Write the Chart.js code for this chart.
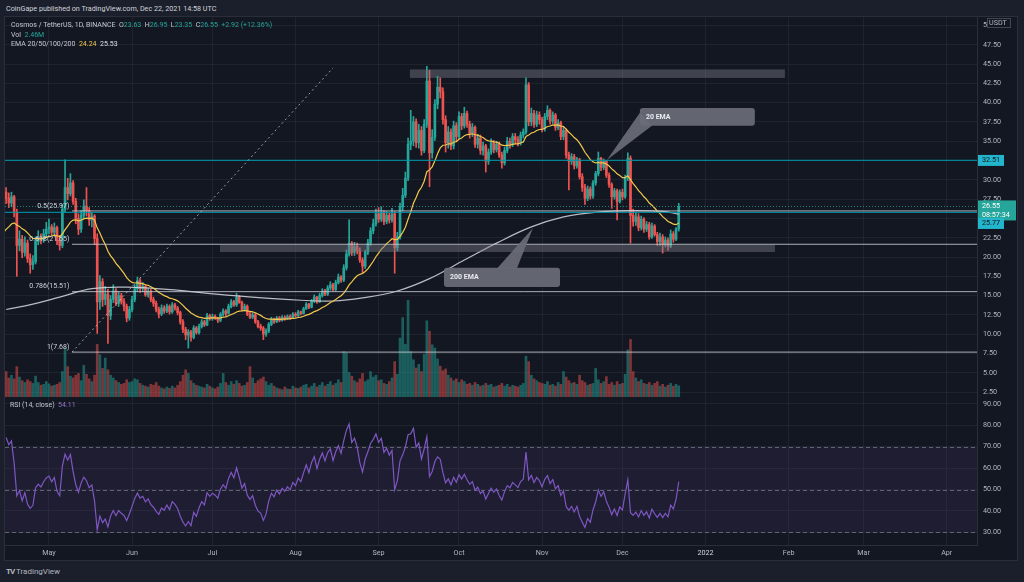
<!DOCTYPE html>
<html>
<head>
<meta charset="utf-8">
<script src="https://cdn.jsdelivr.net/npm/chart.js@4.4.1/dist/chart.umd.min.js"></script>
<style>
  body { margin: 0; background: #1b1f2b; width: 1024px; height: 582px; overflow: hidden; font-family: Roboto, sans-serif; }
  #frame { position: absolute; left: 4px; top: 16px; width: 1014px; height: 545px; border: 1px solid #2a2e39; background: #131722; box-sizing: border-box; }
  canvas { position: absolute; left: 0; }
  #main { top: 16px; }
  #rsi { top: 397px; }
  .t { position: absolute; color: #c4c7cf; font-size: 7px; white-space: pre; line-height: 9px; }
  .up { color: #26a69a; }
</style>
</head>
<body>
<div id="frame"></div>
<canvas id="main" width="1018" height="381"></canvas>
<canvas id="rsi" width="1018" height="164"></canvas>

<div class="t" style="left:6px;top:4px;font-size:7.2px;color:#d1d4dc">CoinGape published on TradingView.com, Dec 22, 2021 14:58 UTC</div>
<div class="t" style="left:11px;top:21px">Cosmos / TetherUS, 1D, BINANCE  O<span class="up">23.63</span>  H<span class="up">26.95</span>  L<span class="up">23.35</span>  C<span class="up">26.55</span>  <span class="up">+2.92 (+12.36%)</span></div>
<div class="t" style="left:11px;top:31px">Vol  <span class="up">2.46M</span></div>
<div class="t" style="left:11px;top:40px">EMA 20/50/100/200  <span style="color:#f2c94c">24.24</span>  <span style="color:#e0e3eb">25.53</span></div>
<div class="t" style="left:10px;top:401px">RSI (14, close)  <span style="color:#9575cd">54.11</span></div>
<div class="t" style="left:6px;top:567px;font-size:8px;color:#b2b5be"><b style="letter-spacing:-1px">TV</b> TradingView</div>

<script>
// days counted from 15 Apr 2021 (index 0) to 22 Dec 2021 (index 251)
const preCloses = [21.0, 20.4, 21.2, 22.0, 21.5, 22.4, 21.9, 23.0, 22.5, 23.8, 24.6, 24.0, 26.2, 28.4];

const closes = [
  27.6, 27.0, 27.8, 25.8, 21.5, 22.3, 20.6, 21.8, 19.8, 19.0,
  19.4, 22.0, 22.6, 22.2, 23.0, 23.6, 23.9, 23.2, 23.8, 22.1,
  21.5, 26.2, 29.0, 28.2, 29.6, 27.2, 25.0, 23.6, 25.4, 26.6,
  26.0, 24.8, 25.3, 22.4, 14.2, 16.8, 14.5, 15.2, 12.4, 14.5,
  15.6, 14.0, 15.0, 14.2, 13.6, 12.1, 13.2, 14.5, 15.9, 16.9,
  15.9, 16.2, 15.1, 15.6, 14.5, 14.0, 13.2, 12.6, 13.4, 13.0,
  13.6, 12.9, 13.8, 13.4, 12.8, 11.6, 10.6, 9.9, 10.3, 9.6,
  10.8, 10.2, 11.0, 11.6, 11.2, 12.4, 12.0, 12.3, 12.1, 11.8,
  12.6, 13.0, 12.7, 13.6, 14.2, 13.8, 14.8, 14.1, 13.2, 13.6,
  12.6, 12.2, 12.5, 11.6, 11.0, 10.8, 10.0, 10.4, 11.3, 11.9,
  11.6, 12.1, 11.8, 12.2, 12.0, 12.3, 12.1, 12.6, 12.4, 12.9,
  12.7, 13.3, 13.9, 13.5, 14.3, 14.8, 14.2, 15.0, 15.6, 15.2,
  16.0, 16.4, 15.8, 16.7, 17.4, 17.0, 18.6, 20.4, 21.8, 20.6,
  21.4, 20.8, 19.6, 18.8, 20.6, 21.8, 23.4, 24.3, 25.6, 24.9,
  25.8, 24.6, 25.4, 24.8, 25.6, 21.2, 22.6, 26.5, 28.0, 30.2,
  34.6, 35.0, 37.5, 34.8, 36.4, 33.8, 37.2, 42.8, 33.5, 35.5,
  39.8, 42.0, 41.4, 37.8, 34.8, 36.2, 34.4, 37.0, 35.6, 38.2,
  37.0, 38.6, 37.2, 36.0, 36.8, 34.6, 35.4, 33.8, 34.4, 32.4,
  33.6, 34.8, 33.9, 34.6, 33.2, 32.2, 33.8, 35.0, 34.6, 35.6,
  35.2, 34.8, 35.8, 36.2, 42.3, 37.5, 38.6, 37.2, 38.4, 37.8,
  36.6, 38.2, 39.0, 37.6, 38.4, 36.8, 37.4, 35.6, 36.4, 33.2,
  32.4, 33.0, 31.8, 32.6, 30.4, 29.0, 27.6, 28.8, 27.9, 29.6,
  30.8, 32.8, 31.6, 32.4, 30.6, 29.4, 27.8, 28.6, 27.2, 28.4,
  27.8, 30.2, 32.8, 25.4, 24.6, 25.2, 23.8, 24.9, 23.6, 24.2,
  22.6, 24.0, 22.9, 22.0, 22.6, 21.6, 22.2, 21.4, 23.0, 22.3,
  23.63, 26.55
];

const highs = [
  29.0, 28.3, 28.4, 28.0, 26.2, 23.4, 22.8, 22.6, 22.2, 20.4,
  20.2, 22.6, 23.4, 23.0, 23.6, 24.5, 24.9, 24.2, 24.4, 24.0,
  22.8, 26.8, 32.6, 30.2, 30.8, 29.9, 27.6, 25.6, 26.0, 27.4,
  29.0, 26.4, 25.8, 25.5, 23.0, 17.6, 17.2, 16.2, 15.8, 15.0,
  16.4, 15.9, 15.5, 15.3, 14.6, 13.9, 13.6, 14.9, 16.4, 17.4,
  17.2, 16.7, 16.4, 15.9, 15.8, 14.8, 14.3, 13.5, 13.8, 13.7,
  13.9, 13.8, 14.1, 14.0, 13.6, 13.0, 11.9, 10.9, 10.6, 10.5,
  11.1, 11.0, 11.3, 11.9, 11.8, 12.7, 12.6, 12.6, 12.5, 12.2,
  12.8, 13.3, 13.2, 13.9, 14.5, 14.4, 15.3, 15.0, 14.3, 13.9,
  13.8, 12.9, 12.8, 12.7, 11.8, 11.3, 11.0, 10.7, 11.5, 12.2,
  12.1, 12.3, 12.3, 12.4, 12.4, 12.5, 12.5, 12.8, 12.8, 13.1,
  13.0, 13.5, 14.1, 14.0, 14.5, 15.1, 14.9, 15.3, 15.9, 15.8,
  16.3, 16.8, 16.6, 17.0, 17.8, 17.6, 19.0, 20.9, 24.8, 22.0,
  21.9, 21.8, 21.2, 19.9, 20.9, 22.3, 23.8, 24.9, 26.2, 26.4,
  26.5, 26.0, 25.9, 25.7, 26.3, 25.9, 23.2, 27.0, 28.9, 31.0,
  35.4, 39.0, 38.2, 37.9, 37.2, 36.9, 37.8, 44.7, 44.2, 36.5,
  40.4, 43.4, 43.2, 41.9, 38.3, 36.9, 36.6, 37.6, 37.4, 38.8,
  38.6, 39.4, 38.9, 37.6, 37.3, 37.0, 35.9, 35.8, 34.9, 34.6,
  34.0, 35.3, 35.1, 35.0, 34.9, 33.6, 34.2, 35.5, 35.4, 36.0,
  36.0, 35.6, 36.2, 36.6, 43.2, 42.6, 39.3, 39.0, 38.9, 38.8,
  38.1, 38.6, 39.6, 39.2, 38.8, 38.6, 37.8, 37.6, 36.8, 36.6,
  33.6, 33.4, 33.3, 32.9, 32.8, 30.8, 29.4, 29.2, 29.1, 29.9,
  31.1, 33.6, 32.9, 32.7, 32.5, 30.9, 29.6, 28.9, 28.8, 28.7,
  28.8, 30.6, 33.5, 33.1, 26.2, 25.8, 25.6, 25.3, 25.1, 24.6,
  24.5, 24.4, 24.2, 23.2, 23.1, 22.9, 22.6, 22.5, 23.5, 23.3,
  23.8, 26.95
];

const lows = [
  26.9, 26.4, 26.5, 25.2, 17.5, 20.8, 19.9, 20.1, 19.3, 17.9,
  18.4, 19.1, 21.6, 21.7, 21.9, 22.6, 23.0, 22.8, 22.9, 21.6,
  20.9, 21.2, 25.8, 27.4, 27.9, 26.8, 24.3, 22.9, 23.2, 25.0,
  25.3, 24.1, 23.9, 21.6, 10.1, 13.2, 13.6, 13.8, 8.8, 11.9,
  14.1, 13.7, 13.6, 13.9, 13.0, 11.6, 11.8, 12.9, 14.2, 15.5,
  15.4, 15.5, 14.9, 14.8, 14.2, 13.6, 12.9, 12.1, 12.4, 12.7,
  12.8, 12.6, 12.7, 13.1, 12.5, 11.3, 10.2, 9.3, 8.2, 9.1,
  9.4, 10.0, 10.0, 10.8, 11.0, 11.1, 11.8, 11.8, 11.9, 11.5,
  11.6, 12.4, 12.4, 12.6, 13.4, 13.6, 13.6, 14.0, 13.0, 13.0,
  12.4, 12.0, 12.0, 11.4, 10.8, 10.5, 9.3, 9.7, 10.2, 11.1,
  11.4, 11.5, 11.6, 11.7, 11.8, 11.9, 11.9, 12.0, 12.2, 12.3,
  12.5, 12.6, 13.2, 13.3, 13.4, 14.1, 14.0, 14.1, 14.8, 15.0,
  15.0, 15.7, 15.6, 15.6, 16.5, 16.7, 16.8, 18.3, 20.1, 20.2,
  20.2, 20.4, 19.3, 17.9, 18.5, 20.3, 21.5, 23.0, 24.0, 24.5,
  24.6, 24.2, 24.3, 24.4, 24.5, 17.9, 20.8, 22.3, 26.0, 27.7,
  29.9, 33.9, 34.4, 34.2, 34.1, 33.2, 33.5, 36.8, 29.1, 32.8,
  35.1, 39.2, 40.6, 37.2, 33.6, 34.1, 33.9, 34.0, 35.0, 35.3,
  36.5, 36.7, 36.8, 35.4, 35.6, 34.2, 34.1, 33.3, 33.2, 31.0,
  32.0, 33.3, 33.5, 33.6, 32.9, 31.5, 31.9, 33.5, 34.1, 34.3,
  34.7, 34.4, 34.5, 35.4, 35.9, 37.0, 37.0, 36.8, 36.9, 37.2,
  36.2, 36.3, 37.8, 37.2, 37.3, 36.4, 36.5, 35.2, 35.2, 32.8,
  28.7, 32.0, 31.4, 31.5, 30.1, 28.5, 26.8, 27.3, 27.5, 27.6,
  29.3, 30.5, 31.2, 31.3, 30.3, 29.0, 26.3, 27.5, 24.8, 27.0,
  27.4, 27.6, 29.9, 21.8, 24.0, 24.1, 23.4, 23.5, 23.2, 23.3,
  22.3, 22.4, 22.7, 21.5, 21.5, 20.5, 21.3, 20.9, 21.2, 21.9,
  22.1, 23.35
];

// volume in millions
const volumes = [
  5.6, 4.2, 4.8, 4.0, 6.7, 4.4, 3.6, 3.2, 3.8, 3.4,
  3.0, 4.6, 3.2, 2.6, 2.8, 3.4, 2.9, 2.4, 2.6, 2.8,
  3.2, 5.6, 10.8, 6.7, 4.6, 4.2, 4.8, 5.2, 3.6, 7.0,
  5.0, 4.0, 3.4, 4.8, 11.6, 9.3, 6.3, 8.6, 6.0, 4.8,
  4.2, 3.6, 3.2, 2.8, 3.0, 3.8, 3.2, 3.4, 4.0, 3.8,
  3.0, 2.6, 2.4, 2.2, 2.8, 2.6, 3.2, 2.4, 2.0, 1.8,
  2.2, 1.9, 2.4, 2.0, 2.6, 3.4, 4.8, 6.0, 5.2, 3.6,
  3.0, 2.6, 2.4, 2.2, 2.0, 2.8, 2.4, 2.0, 1.8, 2.2,
  3.0, 5.2, 3.2, 2.6, 3.4, 2.8, 3.6, 3.0, 2.4, 2.6,
  3.2, 6.7, 4.2, 3.0, 3.6, 4.0, 4.4, 3.4, 2.6, 3.0,
  2.4, 2.0, 1.8, 1.6, 2.2, 1.8, 1.7, 2.4, 2.0, 1.9,
  2.2, 2.6, 2.8, 2.0, 2.4, 3.0, 2.2, 2.6, 3.2, 2.4,
  2.8, 3.4, 2.6, 3.0, 3.8, 3.2, 10.0, 9.7, 5.4, 4.6,
  3.6, 3.2, 4.0, 5.2, 3.4, 3.8, 5.6, 4.4, 4.8, 3.6,
  3.8, 3.0, 2.8, 3.4, 4.2, 7.8, 5.0, 13.0, 17.5, 11.6,
  21.3, 10.0, 8.2, 6.4, 7.2, 5.6, 9.4, 16.8, 14.5, 11.5,
  10.8, 8.4, 6.8, 5.8, 6.2, 4.8, 4.2, 3.6, 4.0, 3.2,
  3.8, 3.4, 2.8, 3.0, 2.6, 3.2, 2.8, 2.4, 2.6, 3.0,
  2.6, 2.8, 2.2, 2.4, 2.6, 3.0, 2.4, 2.8, 2.2, 2.6,
  2.4, 2.2, 2.6, 3.0, 9.0, 7.8, 4.8, 4.0, 3.6, 3.2,
  3.0, 2.8, 3.4, 2.6, 2.8, 2.4, 3.2, 2.8, 5.6, 4.4,
  3.6, 3.0, 3.2, 2.8, 4.8, 3.6, 3.2, 2.6, 2.8, 3.0,
  6.3, 3.8, 3.0, 3.4, 4.5, 2.8, 3.2, 2.6, 3.4, 2.8,
  3.0, 5.0, 10.4, 12.7, 5.6, 4.2, 3.4, 3.8, 3.0, 2.8,
  3.2, 2.6, 3.0, 3.4, 2.4, 2.8, 2.2, 2.6, 3.0, 2.4,
  2.8, 2.46
];

// 200 EMA at a few days
const ema200Days = [0, 10, 20, 32, 45, 60, 85, 110, 122, 133, 146, 158, 171, 183, 196, 208, 220, 233, 245, 251];
const ema200Vals = [13.2, 13.9, 14.8, 15.9, 16.1, 15.8, 15.0, 14.4, 14.3, 14.7, 15.6, 17.2, 19.6, 21.8, 23.9, 25.2, 25.8, 26.0, 25.9, 25.55];

const monthDays = [16, 47, 77, 108, 139, 169, 200, 230, 261, 292, 320, 351];
const monthLabels = ["May", "Jun", "Jul", "Aug", "Sep", "Oct", "Nov", "Dec", "2022", "Feb", "Mar", "Apr"];
const priceTicks = [2.5, 5, 7.5, 10, 12.5, 15, 17.5, 20, 22.5, 25, 27.5, 30, 32.5, 35, 37.5, 40, 42.5, 45, 47.5, 50];
const rsiTicks = [30, 40, 50, 60, 70, 80, 90];

const fibNames = ["0.5", "0.618", "0.786", "1"];
const fibPrices = [25.97, 21.65, 15.51, 7.68];
const levelPrices = [32.51, 25.77];
const lastPrice = 26.55;

const UP = "#26a69a", DOWN = "#ef5350";
const GRID = "rgba(42,46,57,0.55)";
const TXT = "#b2b5be";
const FONT = { family: "Roboto", size: 7.2 };
const X_MIN = -0.41, X_MAX = 362.3;

const opens = closes.map((c, i) => i === 0 ? preCloses[preCloses.length - 1] : closes[i - 1]);
const candleColor = closes.map((c, i) => c >= opens[i] ? UP : DOWN);
const volColor = closes.map((c, i) => c >= opens[i] ? "rgba(38,166,154,0.5)" : "rgba(239,83,80,0.5)");

// indicators from the closes
const allCloses = preCloses.concat(closes);
function ema(vals, n) {
  const k = 2 / (n + 1);
  let e = vals[0];
  return vals.map((v, i) => (i === 0 ? e : (e = v * k + e * (1 - k))));
}
function rsi(vals, n) {
  const out = [];
  let ag = 0, al = 0;
  for (let i = 1; i < vals.length; i++) {
    const ch = vals[i] - vals[i - 1];
    const g = Math.max(ch, 0), l = Math.max(-ch, 0);
    if (i <= n) {
      ag += g; al += l;
      if (i < n) continue;
      ag /= n; al /= n;
    } else {
      ag = (ag * (n - 1) + g) / n;
      al = (al * (n - 1) + l) / n;
    }
    out.push({ x: i - preCloses.length, y: al === 0 ? 100 : 100 - 100 / (1 + ag / al) });
  }
  return out;
}
const ema20 = ema(allCloses, 20).map((v, i) => ({ x: i - preCloses.length, y: v }));
const rsiPts = rsi(allCloses, 14);

function monthTicks(s) { s.ticks = monthDays.map(v => ({ value: v })); }
// keep the plot area the full height of the canvas
function fixedY(s) { s.width = 41; s.paddingTop = 0; s.paddingBottom = 0; }
function fixedX(h) { return s => { s.height = h; s.paddingLeft = 0; s.paddingRight = 0; }; }

const overlay = {
  id: "overlay",
  afterDatasetsDraw(chart) {
    const { ctx, chartArea: a, scales: { x, y } } = chart;
    const px = v => x.getPixelForValue(v), py = v => y.getPixelForValue(v);
    ctx.save();
    ctx.beginPath();
    ctx.rect(a.left, a.top, a.right - a.left, a.bottom - a.top);
    ctx.clip();

    // support / resistance zones
    ctx.fillStyle = "rgba(120,123,134,0.45)";
    ctx.fillRect(px(150.7), py(44.3), px(290.6) - px(150.7), py(43.2) - py(44.3));
    ctx.fillRect(px(79.8), py(21.6), px(286.9) - px(79.8), py(20.65) - py(21.6));

    // teal levels
    ctx.strokeStyle = "rgba(0,151,167,0.85)";
    ctx.lineWidth = 1.2;
    levelPrices.forEach(p => {
      ctx.beginPath(); ctx.moveTo(a.left, py(p)); ctx.lineTo(a.right, py(p)); ctx.stroke();
    });

    // last price line
    ctx.strokeStyle = "rgba(38,166,154,0.8)";
    ctx.lineWidth = 1;
    ctx.setLineDash([1, 2]);
    ctx.beginPath(); ctx.moveTo(a.left, py(lastPrice)); ctx.lineTo(a.right, py(lastPrice)); ctx.stroke();

    // trend line
    ctx.strokeStyle = "rgba(200,202,210,0.75)";
    ctx.setLineDash([2, 3]);
    ctx.beginPath(); ctx.moveTo(px(24.6), py(7.68)); ctx.lineTo(px(122), py(44.5)); ctx.stroke();
    ctx.setLineDash([]);

    // fibonacci levels
    ctx.strokeStyle = "rgba(200,202,210,0.85)";
    ctx.lineWidth = 1;
    ctx.font = "7px Roboto";
    ctx.textAlign = "right";
    ctx.textBaseline = "middle";
    fibPrices.forEach((p, i) => {
      ctx.beginPath(); ctx.moveTo(px(24.6), py(p)); ctx.lineTo(a.right, py(p)); ctx.stroke();
      ctx.fillStyle = "#d1d4dc";
      ctx.fillText(fibNames[i] + "(" + p.toFixed(2) + ")", px(23.6), py(p) - 5);
    });

    // callouts
    const callout = (x0, x1, p0, p1, pts, label) => {
      ctx.fillStyle = "rgba(106,109,120,0.92)";
      ctx.beginPath();
      ctx.moveTo(px(pts[0][0]), py(pts[0][1]));
      ctx.lineTo(px(pts[1][0]), py(pts[1][1]));
      ctx.lineTo(px(pts[2][0]), py(pts[2][1]));
      ctx.closePath(); ctx.fill();
      ctx.beginPath();
      ctx.roundRect(px(x0), py(p0), px(x1) - px(x0), py(p1) - py(p0), 3);
      ctx.fill();
      ctx.fillStyle = "#e8eaf0";
      ctx.font = "bold 7px Roboto";
      ctx.textAlign = "left";
      ctx.fillText(label, px(x0) + 6, (py(p0) + py(p1)) / 2);
    };
    callout(236.5, 279.4, 39.3, 37.0, [[236.5, 38.7], [241, 37.0], [224.2, 32.56]], "20 EMA");
    callout(163.4, 206.7, 18.6, 16.1, [[183.2, 18.5], [190.6, 18.5], [196.6, 23.76]], "200 EMA");
    ctx.restore();
  },
  afterDraw(chart) {
    const { ctx, chartArea: a, scales: { y } } = chart;
    const py = v => y.getPixelForValue(v);
    ctx.save();
    ctx.font = "7.2px Roboto";
    ctx.textBaseline = "middle";
    ctx.textAlign = "left";
    const tag = (yy, h, w, bg, fg, lines) => {
      ctx.fillStyle = bg;
      ctx.fillRect(a.right + 1, yy - h / 2, w, h);
      ctx.fillStyle = fg;
      lines.forEach((t, i) => ctx.fillText(t, a.right + 5, yy - (lines.length - 1) * 4.5 + i * 9));
    };
    tag(py(levelPrices[0]), 11, 26, "#22b5cc", "#131722", [levelPrices[0].toFixed(2)]);
    tag(py(lastPrice) + 4, 20, 38, UP, "#ffffff", [lastPrice.toFixed(2), "08:57:34"]);
    tag(py(levelPrices[1]) + 11, 11, 26, "#22b5cc", "#131722", [levelPrices[1].toFixed(2)]);
    // currency box
    ctx.fillStyle = "#131722";
    ctx.fillRect(a.right + 10, 2, 24, 10);
    ctx.strokeStyle = "#434651";
    ctx.strokeRect(a.right + 10.5, 2.5, 23, 9);
    ctx.fillStyle = TXT;
    ctx.fillText("USDT", a.right + 12, 7.5);
    ctx.restore();
  }
};

new Chart(document.getElementById("main"), {
  type: "bar",
  data: {
    datasets: [
      {
        label: "Volume", yAxisID: "yv", grouped: false, order: 5, barThickness: 2,
        data: volumes.map((v, i) => ({ x: i, y: v })),
        backgroundColor: volColor
      },
      {
        label: "Wick", grouped: false, order: 4, barThickness: 1,
        data: closes.map((c, i) => ({ x: i, y: [lows[i], highs[i]] })),
        backgroundColor: candleColor
      },
      {
        label: "Body", grouped: false, order: 3, barThickness: 2,
        data: closes.map((c, i) => ({ x: i, y: [opens[i], c] })),
        backgroundColor: candleColor
      },
      {
        type: "line", label: "EMA 200", order: 2,
        data: ema200Days.map((d, i) => ({ x: d, y: ema200Vals[i] })),
        borderColor: "rgba(215,217,224,0.85)", borderWidth: 1.2, pointRadius: 0, tension: 0.4
      },
      {
        type: "line", label: "EMA 20", order: 1,
        data: ema20,
        borderColor: "#f2c94c", borderWidth: 1.2, pointRadius: 0
      }
    ]
  },
  options: {
    responsive: false,
    animation: false,
    layout: { autoPadding: false, padding: { left: 5, right: 0, top: 0, bottom: 0 } },
    plugins: { legend: { display: false }, tooltip: { enabled: false } },
    scales: {
      x: {
        type: "linear", min: X_MIN, max: X_MAX, offset: false,
        afterBuildTicks: monthTicks,
        afterFit: fixedX(0),
        ticks: { display: false },
        grid: { color: GRID, drawTicks: false, offset: false },
        border: { display: false }
      },
      y: {
        position: "right", min: 1.865, max: 51.22,
        afterBuildTicks: s => { s.ticks = priceTicks.map(v => ({ value: v })); },
        afterFit: fixedY,
        ticks: { color: TXT, font: FONT, padding: 6, callback: v => v.toFixed(2) },
        grid: { color: GRID, drawTicks: false },
        border: { display: true, color: "#2a2e39" }
      },
      yv: { display: false, min: 0, max: 84 }
    }
  },
  plugins: [overlay]
});

const rsiBand = {
  id: "rsiBand",
  beforeDatasetsDraw(chart) {
    const { ctx, chartArea: a, scales: { y } } = chart;
    ctx.save();
    ctx.fillStyle = "rgba(126,87,194,0.1)";
    ctx.fillRect(a.left, y.getPixelForValue(70), a.right - a.left, y.getPixelForValue(30) - y.getPixelForValue(70));
    ctx.strokeStyle = "rgba(120,123,134,0.75)";
    ctx.lineWidth = 1;
    ctx.setLineDash([4, 3]);
    [70, 50, 30].forEach(v => {
      const yy = Math.round(y.getPixelForValue(v)) + 0.5;
      ctx.beginPath(); ctx.moveTo(a.left, yy); ctx.lineTo(a.right, yy); ctx.stroke();
    });
    ctx.restore();
  }
};

new Chart(document.getElementById("rsi"), {
  type: "line",
  data: {
    datasets: [{
      label: "RSI", data: rsiPts,
      borderColor: "#7e57c2", borderWidth: 1.2, pointRadius: 0
    }]
  },
  options: {
    responsive: false,
    animation: false,
    layout: { autoPadding: false, padding: { left: 5, right: 0, top: 0, bottom: 0 } },
    plugins: { legend: { display: false }, tooltip: { enabled: false } },
    scales: {
      x: {
        type: "linear", min: X_MIN, max: X_MAX,
        afterBuildTicks: monthTicks,
        afterFit: fixedX(16),
        ticks: {
          autoSkip: false, maxRotation: 0, padding: 4, font: FONT,
          color: c => (c.tick && c.tick.value === 261 ? "#d1d4dc" : TXT),
          callback: v => monthLabels[monthDays.indexOf(v)]
        },
        grid: { color: GRID, drawTicks: false },
        border: { display: true, color: "#2a2e39" }
      },
      y: {
        position: "right", min: 24.1, max: 93.2,
        afterBuildTicks: s => { s.ticks = rsiTicks.map(v => ({ value: v })); },
        afterFit: fixedY,
        ticks: { color: TXT, font: FONT, padding: 6, callback: v => v.toFixed(2) },
        grid: { color: GRID, drawTicks: false },
        border: { display: true, color: "#2a2e39" }
      }
    }
  },
  plugins: [rsiBand]
});
</script>
</body>
</html>
